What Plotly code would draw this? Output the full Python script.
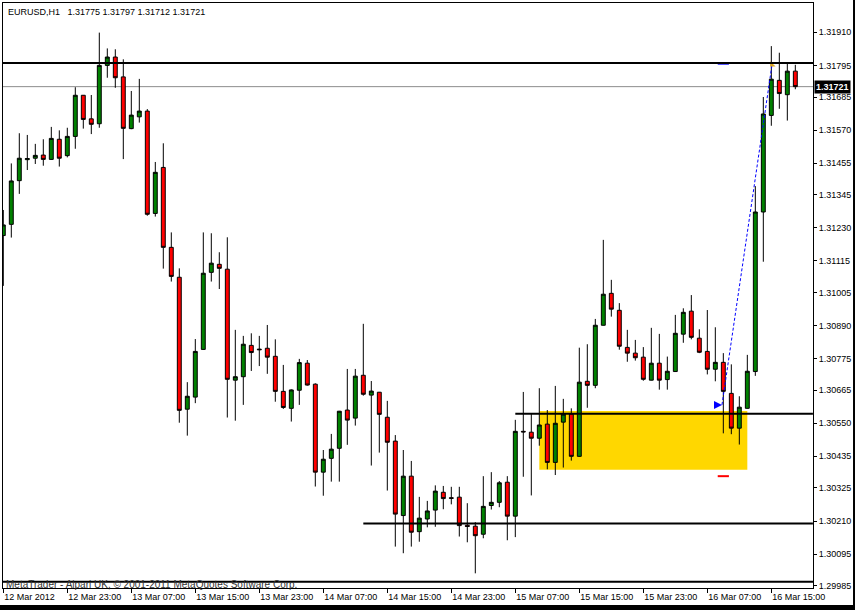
import pandas as pd
import plotly.graph_objects as go

# ============================================================================
# DATA - EURUSD H1, 12 Mar 2012 15:00 .. 16 Mar 2012 18:00
# ============================================================================

symbol = "EURUSD,H1"
times = pd.date_range("2012-03-12 15:00", periods=100, freq="h")

opens = [
    1.31203, 1.31242, 1.31394, 1.31467, 1.31472, 1.31483, 1.31468, 1.31538, 1.31481, 1.31548,
    1.31691, 1.31609, 1.31592, 1.31795, 1.31824, 1.31755, 1.31575, 1.31616, 1.31636, 1.31280,
    1.31440, 1.31162, 1.31058, 1.30599, 1.30641, 1.30807, 1.31075, 1.31103, 1.31086, 1.30700,
    1.30712, 1.30821, 1.30808, 1.30811, 1.30783, 1.30661, 1.30602, 1.30665, 1.30759, 1.30686,
    1.30380, 1.30428, 1.30463, 1.30596, 1.30568, 1.30717, 1.30648, 1.30658, 1.30571, 1.30488,
    1.30229, 1.30366, 1.30173, 1.30217, 1.30248, 1.30310, 1.30291, 1.30293, 1.30195, 1.30192,
    1.30164, 1.30264, 1.30275, 1.30345, 1.30227, 1.30522, 1.30519, 1.30498, 1.30547, 1.30414,
    1.30554, 1.30582, 1.30435, 1.30696, 1.30682, 1.30891, 1.31002, 1.30943, 1.30814, 1.30794,
    1.30780, 1.30700, 1.30759, 1.30702, 1.30730, 1.30860, 1.30940, 1.30846, 1.30800, 1.30738,
    1.30762, 1.30654, 1.30533, 1.30602, 1.30730, 1.31285, 1.31621, 1.31743, 1.31693, 1.31775,
]
highs = [
    1.31292, 1.31454, 1.31559, 1.31553, 1.31522, 1.31538, 1.31581, 1.31569, 1.31578, 1.31719,
    1.31692, 1.31692, 1.31909, 1.31854, 1.31851, 1.31816, 1.31706, 1.31748, 1.31643, 1.31459,
    1.31524, 1.31214, 1.31089, 1.30693, 1.30843, 1.31214, 1.31211, 1.31145, 1.31197, 1.30875,
    1.30854, 1.30863, 1.30854, 1.30892, 1.30842, 1.30753, 1.30668, 1.30774, 1.30770, 1.30689,
    1.30457, 1.30513, 1.30593, 1.30739, 1.30739, 1.30896, 1.30697, 1.30659, 1.30628, 1.30509,
    1.30457, 1.30419, 1.30294, 1.30280, 1.30334, 1.30332, 1.30329, 1.30329, 1.30272, 1.30206,
    1.30366, 1.30380, 1.30349, 1.30366, 1.30562, 1.30659, 1.30585, 1.30672, 1.30596, 1.30680,
    1.30635, 1.30602, 1.30813, 1.30825, 1.30913, 1.31188, 1.31049, 1.30968, 1.30875, 1.30840,
    1.30815, 1.30882, 1.30861, 1.30782, 1.30927, 1.30950, 1.30996, 1.30877, 1.30944, 1.30884,
    1.30794, 1.30755, 1.30644, 1.30788, 1.31375, 1.31685, 1.31862, 1.31839, 1.31802, 1.31797,
]
lows = [
    1.31028, 1.31196, 1.31348, 1.31431, 1.31452, 1.31446, 1.31466, 1.31443, 1.31475, 1.31505,
    1.31575, 1.31556, 1.31578, 1.31752, 1.31717, 1.31469, 1.31573, 1.31596, 1.31272, 1.31269,
    1.31088, 1.31043, 1.30552, 1.30507, 1.30620, 1.30805, 1.31043, 1.31017, 1.30570, 1.30559,
    1.30614, 1.30732, 1.30749, 1.30722, 1.30625, 1.30600, 1.30556, 1.30614, 1.30681, 1.30330,
    1.30298, 1.30347, 1.30347, 1.30475, 1.30542, 1.30646, 1.30403, 1.30448, 1.30316, 1.30121,
    1.30098, 1.30121, 1.30138, 1.30188, 1.30190, 1.30251, 1.30268, 1.30156, 1.30136, 1.30028,
    1.30150, 1.30250, 1.30258, 1.30143, 1.30154, 1.30364, 1.30299, 1.30472, 1.30390, 1.30370,
    1.30396, 1.30420, 1.30433, 1.30604, 1.30672, 1.30890, 1.30921, 1.30806, 1.30764, 1.30768,
    1.30698, 1.30699, 1.30667, 1.30667, 1.30729, 1.30830, 1.30842, 1.30794, 1.30720, 1.30696,
    1.30515, 1.30512, 1.30476, 1.30601, 1.30715, 1.31112, 1.31585, 1.31644, 1.31603, 1.31712,
]
closes = [
    1.31240, 1.31393, 1.31472, 1.31471, 1.31482, 1.31468, 1.31541, 1.31472, 1.31548, 1.31691,
    1.31607, 1.31590, 1.31795, 1.31824, 1.31752, 1.31576, 1.31622, 1.31636, 1.31277, 1.31423,
    1.31162, 1.31061, 1.30595, 1.30644, 1.30800, 1.31072, 1.31107, 1.31089, 1.30703, 1.30712,
    1.30825, 1.30796, 1.30806, 1.30780, 1.30661, 1.30605, 1.30666, 1.30761, 1.30683, 1.30380,
    1.30425, 1.30460, 1.30592, 1.30561, 1.30714, 1.30651, 1.30662, 1.30581, 1.30484, 1.30234,
    1.30366, 1.30171, 1.30220, 1.30245, 1.30314, 1.30288, 1.30289, 1.30194, 1.30191, 1.30159,
    1.30261, 1.30275, 1.30343, 1.30227, 1.30522, 1.30520, 1.30498, 1.30544, 1.30414, 1.30550,
    1.30582, 1.30435, 1.30693, 1.30682, 1.30891, 1.30999, 1.30947, 1.30818, 1.30794, 1.30778,
    1.30703, 1.30759, 1.30700, 1.30731, 1.30863, 1.30936, 1.30849, 1.30797, 1.30738, 1.30762,
    1.30661, 1.30533, 1.30606, 1.30731, 1.31285, 1.31626, 1.31747, 1.31697, 1.31775, 1.31721,
]

y_ticks = [1.31910, 1.31795, 1.31685, 1.31570, 1.31455, 1.31345, 1.31230, 1.31115, 1.31005,
           1.30890, 1.30775, 1.30665, 1.30550, 1.30435, 1.30325, 1.30210, 1.30095, 1.29985]
x_tick_times = pd.date_range("2012-03-12 15:00", periods=13, freq="8h")
x_tick_labels = ["12 Mar 2012", "12 Mar 23:00", "13 Mar 07:00", "13 Mar 15:00", "13 Mar 23:00",
                 "14 Mar 07:00", "14 Mar 15:00", "14 Mar 23:00", "15 Mar 07:00", "15 Mar 15:00",
                 "15 Mar 23:00", "16 Mar 07:00", "16 Mar 15:00"]

# drawn objects
resistance = 1.31803
support_hi, support_hi_from = 1.30583, "2012-03-15 07:00"
support_lo, support_lo_from = 1.30201, "2012-03-14 12:00"
floor_level = 1.29999
zone_start, zone_end = "2012-03-15 10:00", "2012-03-16 12:00"
zone_top, zone_bottom = 1.30593, 1.30388
trade_times = ["2012-03-16 08:50", "2012-03-16 15:05"]
trade_prices = [1.30614, 1.31797]
order_time = "2012-03-16 09:00"
take_profit, stop_loss = 1.31801, 1.30366

FONT = "Liberation Sans"

fig = go.Figure()

fig.add_trace(go.Candlestick(
    x=times, open=opens, high=highs, low=lows, close=closes,
    increasing=dict(fillcolor="#008000", line=dict(color="black", width=1)),
    decreasing=dict(fillcolor="#FF0000", line=dict(color="black", width=1)),
    whiskerwidth=0,
    hoverinfo="skip",
    showlegend=False,
))

# trade line (buy -> close)
fig.add_trace(go.Scatter(
    x=trade_times, y=trade_prices, mode="lines",
    line=dict(color="#0000FF", width=1, dash="3px,2px"),
    hoverinfo="skip", showlegend=False,
))
fig.add_trace(go.Scatter(
    x=[trade_times[0]], y=[trade_prices[0]], mode="markers",
    marker=dict(symbol="arrow-right", size=8, color="#0000FF"),
    hoverinfo="skip", showlegend=False,
))
fig.add_trace(go.Scatter(
    x=[trade_times[1]], y=[trade_prices[1]], mode="markers",
    marker=dict(symbol="triangle-sw", size=6, color="#DAA520"),
    hoverinfo="skip", showlegend=False,
))
# take profit / stop loss markers
fig.add_trace(go.Scatter(
    x=[order_time, order_time], y=[take_profit, stop_loss], mode="markers",
    marker=dict(symbol="line-ew", size=8, line=dict(width=2, color=["#0000FF", "#FF0000"])),
    hoverinfo="skip", showlegend=False,
))

shapes = [
    dict(type="rect", xref="x", yref="y", x0=zone_start, x1=zone_end, y0=zone_bottom, y1=zone_top,
         fillcolor="#FFD700", line=dict(width=0), layer="below"),
    dict(type="line", xref="paper", yref="y", x0=0, x1=1, y0=closes[-1], y1=closes[-1],
         line=dict(color="#8C8C8C", width=1), layer="below"),
    dict(type="line", xref="paper", yref="y", x0=0, x1=1, y0=resistance, y1=resistance,
         line=dict(color="black", width=2)),
    dict(type="line", xref="x", yref="y", x0=support_hi_from, x1="2012-03-16 20:12",
         y0=support_hi, y1=support_hi, line=dict(color="black", width=2)),
    dict(type="line", xref="x", yref="y", x0=support_lo_from, x1="2012-03-16 20:12",
         y0=support_lo, y1=support_lo, line=dict(color="black", width=2)),
    dict(type="line", xref="paper", yref="y", x0=0, x1=1, y0=floor_level, y1=floor_level,
         line=dict(color="black", width=2)),
    # window frame (right and bottom edges)
    dict(type="rect", xref="paper", yref="paper", x0=-0.004, x1=1.053, y0=-0.040, y1=-0.029,
         fillcolor="black", line=dict(width=0)),
    dict(type="rect", xref="paper", yref="paper", x0=1.0494, x1=1.053, y0=-0.040, y1=1.006,
         fillcolor="black", line=dict(width=0)),
]

header = (symbol + "\u00a0\u00a0 " + " ".join(f"{v:.5f}" for v in
          (opens[-1], highs[-1], lows[-1], closes[-1])))

annotations = [
    dict(xref="paper", yref="paper", x=0, y=1, xanchor="left", yanchor="top",
         xshift=3, yshift=-2, text=header, showarrow=False,
         font=dict(family=FONT, size=9, color="black")),
    dict(xref="paper", yref="y", x=1, y=closes[-1], xanchor="left", yanchor="middle",
         xshift=1, text=f"<b>{closes[-1]:.5f}</b>", showarrow=False, bgcolor="black",
         borderpad=1, font=dict(family=FONT, size=9, color="white")),
    dict(xref="paper", yref="paper", x=0, y=0, xanchor="left", yanchor="bottom",
         xshift=1, yshift=-4, text="MetaTrader - Alpari UK, © 2001-2011 MetaQuotes Software Corp.",
         showarrow=False, font=dict(family=FONT, size=10, color="#333333")),
]

fig.update_layout(
    width=855, height=610,
    margin=dict(l=3, r=42, t=3, b=22),
    plot_bgcolor="white", paper_bgcolor="white",
    font=dict(family=FONT, size=9, color="black"),
    showlegend=False,
    shapes=shapes,
    annotations=annotations,
    xaxis=dict(
        type="date",
        range=["2012-03-12 14:57:45", "2012-03-16 20:12:36"],
        tickvals=x_tick_times, ticktext=x_tick_labels,
        ticks="outside", ticklen=4, tickcolor="black",
        ticklabelposition="outside right",
        tickfont=dict(family=FONT, size=9, color="black"),
        showgrid=False, zeroline=False,
        showline=True, linecolor="black", linewidth=1, mirror=True,
        rangeslider=dict(visible=False),
    ),
    yaxis=dict(
        side="right",
        range=[1.29977, 1.32012],
        tickvals=y_ticks, ticktext=[f"{v:.5f}" for v in y_ticks],
        ticks="outside", ticklen=3, tickcolor="black",
        tickfont=dict(family=FONT, size=9, color="black"),
        showgrid=False, zeroline=False,
        showline=True, linecolor="black", linewidth=1, mirror=True,
    ),
)

# the page body has an 8px default margin; drop it so the figure sits at the corner
fig.write_html("out.html", config={"displayModeBar": False},
               post_script="document.body.style.margin='0';")
